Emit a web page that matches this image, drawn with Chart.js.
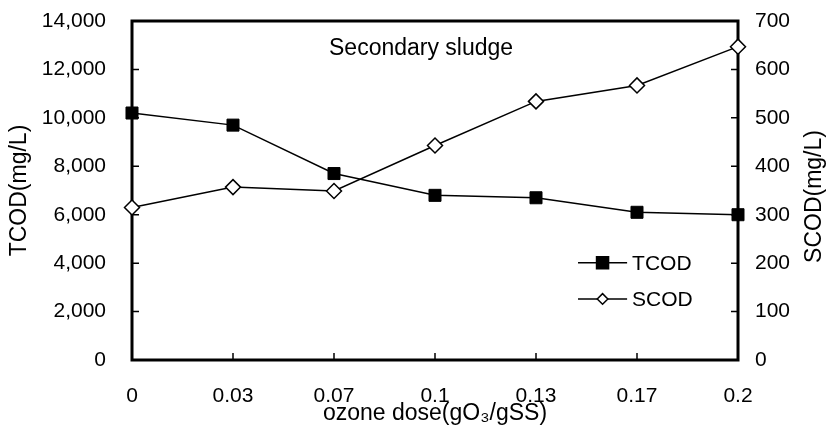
<!DOCTYPE html>
<html>
<head>
<meta charset="utf-8">
<script src="https://cdn.jsdelivr.net/npm/chart.js@4/dist/chart.umd.min.js"></script>
<style>
  html, body { margin: 0; padding: 0; background: #fff; }
  #wrap { width: 829px; height: 434px; position: relative; }
</style>
</head>
<body>
<div id="wrap"><canvas id="cod"></canvas></div>
<script>
const doses = ['0', '0.03', '0.07', '0.1', '0.13', '0.17', '0.2'];
const tcod = [10200, 9700, 7700, 6800, 6700, 6100, 6000];
const scod = [315, 357, 349, 443, 534, 567, 647];
const sampleName = 'Secondary sludge';
const rightTitle = 'SCOD(mg/L)';

const FONT = "'Liberation Sans', Arial, sans-serif";

// square / diamond markers drawn the same way as chart.js point styles
function marker(ctx, style, x, y, r, fill) {
    const s = Math.SQRT1_2 * r;
    ctx.beginPath();
    if (style === 'rect') {
        ctx.rect(x - s, y - s, 2 * s, 2 * s);
    } else {
        ctx.moveTo(x - s, y);
        ctx.lineTo(x, y + s);
        ctx.lineTo(x + s, y);
        ctx.lineTo(x, y - s);
        ctx.closePath();
    }
    ctx.fillStyle = fill;
    ctx.fill();
    ctx.lineWidth = 1.5;
    ctx.strokeStyle = '#000';
    ctx.stroke();
}

const boxPlugin = {
    id: 'boxPlugin',
    beforeDatasetsDraw(chart) {
        const { ctx, chartArea: a, scales } = chart;
        ctx.save();
        ctx.strokeStyle = '#000';
        ctx.lineWidth = 1.5;
        ctx.beginPath();
        // tick marks pointing into the plot
        scales.y.ticks.forEach(t => {
            const py = scales.y.getPixelForValue(t.value);
            ctx.moveTo(a.left, py); ctx.lineTo(a.left + 7, py);
        });
        scales.y1.ticks.forEach(t => {
            const py = scales.y1.getPixelForValue(t.value);
            ctx.moveTo(a.right, py); ctx.lineTo(a.right - 7, py);
        });
        doses.forEach((d, i) => {
            const px = scales.x.getPixelForValue(i);
            ctx.moveTo(px, a.bottom); ctx.lineTo(px, a.bottom - 7);
        });
        ctx.stroke();
        ctx.lineWidth = 3;
        ctx.strokeRect(a.left, a.top, a.right - a.left, a.bottom - a.top);

        // right axis title, reading bottom to top like the left one
        ctx.fillStyle = '#000';
        ctx.font = '23px ' + FONT;
        ctx.textAlign = 'center';
        ctx.textBaseline = 'middle';
        ctx.translate(chart.width - 14, (a.top + a.bottom) / 2 + 6);
        ctx.rotate(-Math.PI / 2);
        ctx.fillText(rightTitle, 0, 0);
        ctx.restore();
    },
    afterDatasetsDraw(chart) {
        const { ctx, chartArea: a } = chart;
        const w = a.right - a.left, h = a.bottom - a.top;
        ctx.save();
        ctx.fillStyle = '#000';
        ctx.textBaseline = 'middle';
        ctx.font = '23px ' + FONT;
        ctx.textAlign = 'center';
        ctx.fillText(sampleName, a.left + w * 0.477, a.top + h * 0.083);

        // legend
        ctx.font = '21px ' + FONT;
        ctx.textAlign = 'left';
        chart.data.datasets.forEach((ds, i) => {
            const y = a.top + h * (0.713 + i * 0.107);
            const x0 = a.left + w * 0.736, x1 = a.left + w * 0.817;
            ctx.beginPath();
            ctx.moveTo(x0, y); ctx.lineTo(x1, y);
            ctx.lineWidth = 1.5;
            ctx.strokeStyle = '#000';
            ctx.stroke();
            marker(ctx, ds.pointStyle, (x0 + x1) / 2, y, ds.pointRadius, ds.pointBackgroundColor);
            ctx.fillStyle = '#000';
            ctx.fillText(ds.label, x1 + 5, y + 1);
        });
        ctx.restore();
    }
};

new Chart(document.getElementById('cod'), {
    type: 'line',
    data: {
        labels: doses,
        datasets: [{
            label: 'TCOD',
            data: tcod,
            yAxisID: 'y',
            borderColor: '#000',
            borderWidth: 1.5,
            pointStyle: 'rect',
            pointRadius: 8.5,
            pointBackgroundColor: '#000',
            pointBorderColor: '#000',
            pointBorderWidth: 1,
            clip: false
        }, {
            label: 'SCOD',
            data: scod,
            yAxisID: 'y1',
            borderColor: '#000',
            borderWidth: 1.5,
            pointStyle: 'rectRot',
            pointRadius: 7.5,
            pointBackgroundColor: '#fff',
            pointBorderColor: '#000',
            pointBorderWidth: 1.5,
            clip: false
        }]
    },
    options: {
        responsive: true,
        maintainAspectRatio: false,
        animation: false,
        layout: { padding: { top: 21, left: 0, right: 0, bottom: 0 } },
        scales: {
            x: {
                type: 'category',
                offset: false,
                grid: { display: false, drawTicks: false },
                border: { display: false },
                ticks: { color: '#000', font: { family: FONT, size: 21 }, padding: 24, maxRotation: 0, autoSkip: false },
                title: { display: true, text: 'ozone dose(gO₃/gSS)', color: '#000', font: { family: FONT, size: 23 }, padding: { top: 0, bottom: 7 } },
                afterFit: s => { s.height = 74; }
            },
            y: {
                position: 'left',
                min: 0,
                max: 14000,
                grid: { display: false, drawTicks: false },
                border: { display: false },
                ticks: {
                    stepSize: 2000,
                    color: '#000',
                    font: { family: FONT, size: 21 },
                    padding: 26,
                    callback: v => v.toLocaleString('en-US')
                },
                title: { display: true, text: 'TCOD(mg/L)', color: '#000', font: { family: FONT, size: 23 }, padding: { top: 6, bottom: 0 } },
                afterFit: s => { s.width = 132; s.paddingTop = 0; s.paddingBottom = 0; }
            },
            y1: {
                position: 'right',
                min: 0,
                max: 700,
                grid: { display: false, drawTicks: false },
                border: { display: false },
                ticks: { stepSize: 100, color: '#000', font: { family: FONT, size: 21 }, padding: 17 },
                afterFit: s => { s.width = 91; s.paddingTop = 0; s.paddingBottom = 0; }
            }
        },
        plugins: {
            legend: { display: false },
            tooltip: { enabled: false }
        }
    },
    plugins: [boxPlugin]
});
</script>
</body>
</html>
